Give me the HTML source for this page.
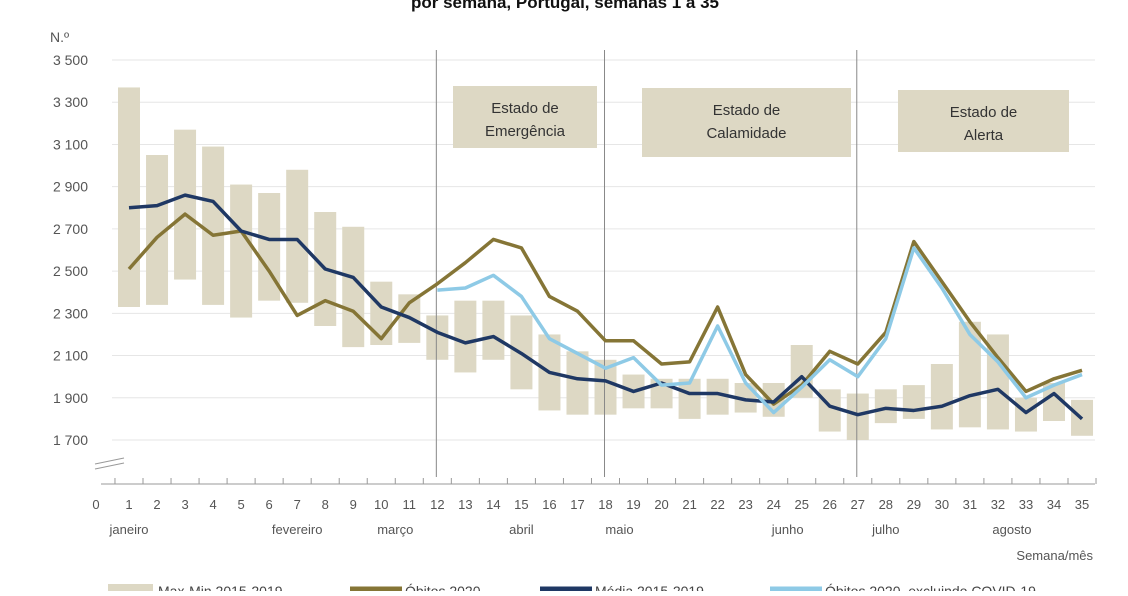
<!DOCTYPE html>
<html><head><meta charset="utf-8"><style>
body{margin:0;background:#fff;width:1128px;height:591px;overflow:hidden;font-family:"Liberation Sans",sans-serif;}
svg text{font-family:"Liberation Sans",sans-serif;}
</style></head><body>
<svg width="1128" height="591" id="c">
<text x="565" y="8" text-anchor="middle" font-size="17" font-weight="bold" fill="#111">por semana, Portugal, semanas 1 a 35</text>
<text x="50" y="42" font-size="14" fill="#555">N.º</text>
<text x="1093" y="560" text-anchor="end" font-size="13" fill="#555">Semana/mês</text>
<g id="grid"></g><g id="bars"></g><g id="states"></g><g id="lines"></g><g id="axis"></g>
<g font-size="14" fill="#444">
<rect x="108" y="584" width="45" height="14" fill="#ddd8c4"/>
<text x="158" y="596">Max-Min 2015-2019</text>
<line x1="350" y1="589" x2="402" y2="589" stroke="#857536" stroke-width="5"/>
<text x="405" y="596">Óbitos 2020</text>
<line x1="540" y1="589" x2="592" y2="589" stroke="#1f3864" stroke-width="5"/>
<text x="595" y="596">Média 2015-2019</text>
<line x1="770" y1="589" x2="822" y2="589" stroke="#8ecae6" stroke-width="5"/>
<text x="825" y="596">Óbitos 2020, excluindo COVID-19</text>
</g>
</svg>
<script>
const weeks=[1,2,3,4,5,6,7,8,9,10,11,12,13,14,15,16,17,18,19,20,21,22,23,24,25,26,27,28,29,30,31,32,33,34,35];
const maxVals=[3370,3050,3170,3090,2910,2870,2980,2780,2710,2450,2390,2290,2360,2360,2290,2200,2120,2080,2010,1990,1990,1990,1970,1970,2150,1940,1920,1940,1960,2060,2260,2200,1900,1970,1890];
const minVals=[2330,2340,2460,2340,2280,2360,2350,2240,2140,2150,2160,2080,2020,2080,1940,1840,1820,1820,1850,1850,1800,1820,1830,1810,1900,1740,1700,1780,1800,1750,1760,1750,1740,1790,1720];
const obitos2020=[2510,2660,2770,2670,2690,2500,2290,2360,2310,2180,2350,2440,2540,2650,2610,2380,2310,2170,2170,2060,2070,2330,2010,1870,1960,2120,2060,2210,2640,2450,2260,2090,1930,1990,2030];
const media=[2800,2810,2860,2830,2690,2650,2650,2510,2470,2330,2280,2210,2160,2190,2110,2020,1990,1980,1930,1970,1920,1920,1890,1880,2000,1860,1820,1850,1840,1860,1910,1940,1830,1920,1800];
const exclWeeks=[12,13,14,15,16,17,18,19,20,21,22,23,24,25,26,27,28,29,30,31,32,33,34,35];
const exclCovid=[2410,2420,2480,2380,2180,2110,2040,2090,1960,1970,2240,1970,1830,1950,2080,2000,2180,2610,2420,2200,2070,1900,1960,2010];
const yTicks=[1700,1900,2100,2300,2500,2700,2900,3100,3300,3500];
const yTickLabels=["1 700","1 900","2 100","2 300","2 500","2 700","2 900","3 100","3 300","3 500"];
const months=["janeiro","fevereiro","março","abril","maio","junho","julho","agosto"];
const monthWeeks=[1,7,10.5,15,18.5,24.5,28,32.5];
const stateWeeks=[12,18,27];
const stateLabels=[["Estado de","Emergência"],["Estado de","Calamidade"],["Estado de","Alerta"]];
const stateBoxes=[[453,86,144,62],[642,88,209,69],[898,90,171,62]];
const NS="http://www.w3.org/2000/svg";
const x=w=>129+(w-1)*28.03;
const y=v=>60+(3500-v)*380/1800;
function mk(tag,attrs,parent){const e=document.createElementNS(NS,tag);for(const k in attrs)e.setAttribute(k,attrs[k]);document.getElementById(parent).appendChild(e);return e;}
yTicks.forEach((t,i)=>{
 const l=mk('line',{x1:112,x2:1095,y1:y(t),y2:y(t),stroke:'#e6e6e6','stroke-width':1},'grid');
 
 
 const tx=mk('text',{x:88,y:y(t)+5,'text-anchor':'end','font-size':14,fill:'#555'},'grid');tx.textContent=yTickLabels[i];
 
 
});
weeks.forEach((w,i)=>{
 const r=mk('rect',{x:x(w)-11,width:22,y:y(maxVals[i]),height:y(minVals[i])-y(maxVals[i]),fill:'#ddd8c4'},'bars');
 
 
});
stateWeeks.forEach((w,i)=>{
 const l=mk('line',{x1:x(w)-1,x2:x(w)-1,y1:50,y2:477,stroke:'#888','stroke-width':1},'states');
 
 
 const b=stateBoxes[i];
 const r=mk('rect',{x:b[0],y:b[1],width:b[2],height:b[3],fill:'#ddd8c4'},'states');
 
 
 stateLabels[i].forEach((s,j)=>{const t=mk('text',{x:b[0]+b[2]/2,y:b[1]+27+j*23,'text-anchor':'middle','font-size':15,fill:'#333'},'states');t.textContent=s;
 
 });
});
function line(xs,vs,col,name){
 const p=mk('polyline',{points:xs.map((w,i)=>x(w)+','+y(vs[i])).join(' '),fill:'none',stroke:col,'stroke-width':3.5,'stroke-linejoin':'round'},'lines');
 
 
}
line(weeks,obitos2020,'#857536','obitos-2020-line');
line(weeks,media,'#1f3864','media-2015-2019-line');
line(exclWeeks,exclCovid,'#8ecae6','obitos-excl-covid-line');
const ax=mk('line',{x1:101,x2:1095,y1:484,y2:484,stroke:'#999'},'axis');


[0].concat(weeks).forEach(w=>{
 const tk=mk('line',{x1:x(w)+14,x2:x(w)+14,y1:478,y2:484,stroke:'#999'},'axis');
 
 
 const t=mk('text',{x:w===0?96:x(w),y:509,'text-anchor':'middle','font-size':13,fill:'#555'},'axis');t.textContent=w;
 
 
});
months.forEach((m,i)=>{const t=mk('text',{x:x(monthWeeks[i]),y:534,'text-anchor':'middle','font-size':13,fill:'#555'},'axis');t.textContent=m;
 
 });
[[95,464,124,458],[95,469,124,463]].forEach(c=>{const l=mk('line',{x1:c[0],y1:c[1],x2:c[2],y2:c[3],stroke:'#999'},'axis');
 
 });
</script>
</body></html>
